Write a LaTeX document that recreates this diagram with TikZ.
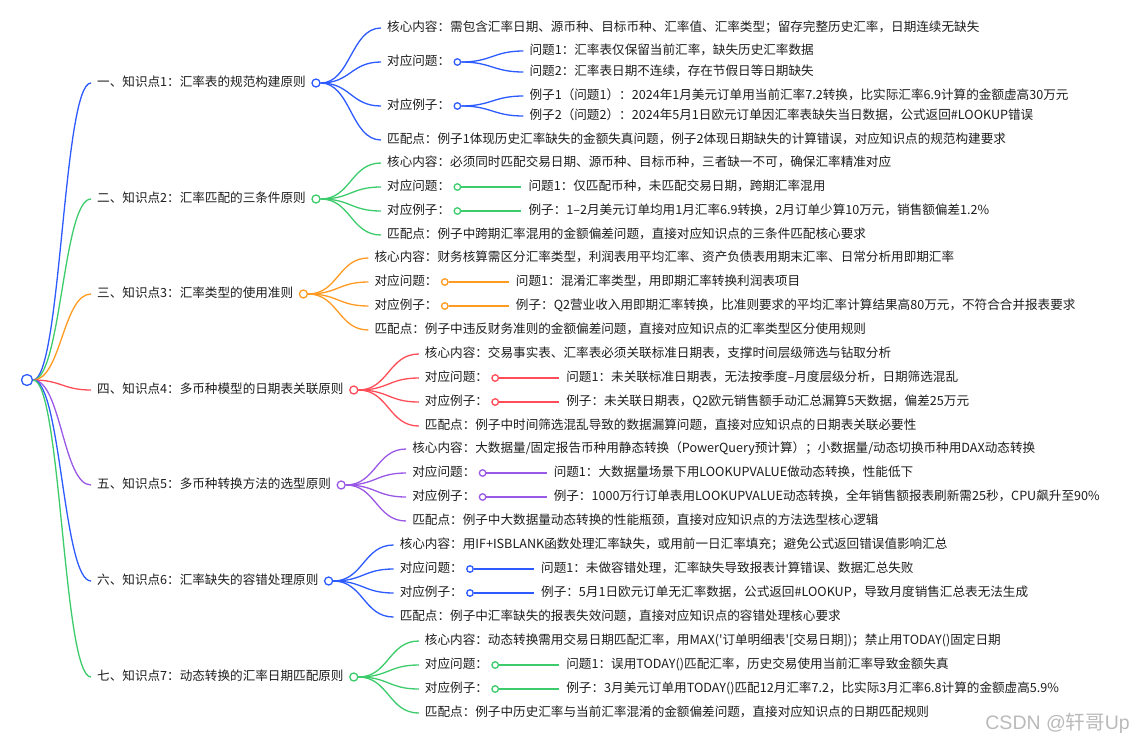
\documentclass[tikz,border=0pt]{standalone}
\usepackage{fontspec}
\newfontfamily\cjk{Noto Sans CJK SC}
\newfontfamily\wmlat{Liberation Sans}
\usetikzlibrary{calc}
\definecolor{cb}{HTML}{2D5BFF}
\definecolor{cg}{HTML}{3DCC6C}
\definecolor{co}{HTML}{FF9A22}
\definecolor{cr}{HTML}{FF4D58}
\definecolor{cp}{HTML}{9A58E6}
\definecolor{tc}{HTML}{1E1E1E}
\newcommand\kbranch[8]{%
  \node[txt] (#1t) at (97,#3) {#4};
  \node[dot=#2, minimum size=8pt] (#1c) at ([xshift=10pt]#1t.east) {};
  \draw[ln=#2] (root.east) .. controls +(28,0) and +(-28,0) .. ([xshift=-6pt]#1t.west);
  \node[txt] (#1a) at ($(#1c)+(71,-36)$) {核心内容：#5};
  \node[txt] (#1p) at ($(#1c)+(71,-12)$) {对应问题：};
  \node[txt] (#1e) at ($(#1c)+(71,12)$) {对应例子：};
  \node[txt] (#1m) at ($(#1c)+(71,36)$) {匹配点：#8};
  \node[dot=#2] (#1pc) at ([xshift=7pt]#1p.east) {};
  \node[dot=#2] (#1ec) at ([xshift=7pt]#1e.east) {};
  \node[txt] (#1pt) at ($(#1pc)+(71,0)$) {#6};
  \node[txt] (#1et) at ($(#1ec)+(71,0)$) {#7};
  \foreach \s in {a,p,e,m}{
    \draw[ln=#2] (#1c.east) .. controls +(30,0) and +(-30,0) .. ([xshift=-6pt]#1\s.west);}
  \draw[ln=#2] (#1pc.east) -- ([xshift=-7pt]#1pt.west);
  \draw[ln=#2] (#1ec.east) -- ([xshift=-7pt]#1et.west);
}
\begin{document}
\begin{tikzpicture}[x=1pt,y=-1pt,
  font=\cjk\fontsize{12.6}{15}\selectfont,
  txt/.style={anchor=west, inner sep=0pt, text=tc, text height=9.6pt, text depth=2.6pt},
  dot/.style={circle, draw=#1, fill=white, line width=1.3pt, minimum size=6.5pt, inner sep=0pt},
  ln/.style={draw=#1, line width=1.3pt}]
\fill[white] (0,0) rectangle (1133,742);
\useasboundingbox (0,0) rectangle (1133,742);
\node[dot=cb, minimum size=11pt] (root) at (27,380) {};

% ---------- branch 1 ----------
\node[txt] (k1t) at (97,83) {一、知识点1：汇率表的规范构建原则};
\node[dot=cb, minimum size=8pt] (k1c) at ([xshift=10pt]k1t.east) {};
\draw[ln=cb] (root.east) .. controls +(28,0) and +(-28,0) .. ([xshift=-6pt]k1t.west);
\node[txt] (k1a) at ($(k1c)+(71,-55)$) {核心内容：需包含汇率日期、源币种、目标币种、汇率值、汇率类型；留存完整历史汇率，日期连续无缺失};
\node[txt] (k1p) at ($(k1c)+(71,-21)$) {对应问题：};
\node[txt] (k1e) at ($(k1c)+(71,23)$) {对应例子：};
\node[txt] (k1m) at ($(k1c)+(71,57)$) {匹配点：例子1体现历史汇率缺失的金额失真问题，例子2体现日期缺失的计算错误，对应知识点的规范构建要求};
\node[dot=cb] (k1pc) at ([xshift=7pt]k1p.east) {};
\node[dot=cb] (k1ec) at ([xshift=7pt]k1e.east) {};
\node[txt] (k1p1) at ($(k1pc)+(72,-11)$) {问题1：汇率表仅保留当前汇率，缺失历史汇率数据};
\node[txt] (k1p2) at ($(k1pc)+(72,10)$) {问题2：汇率表日期不连续，存在节假日等日期缺失};
\node[txt] (k1e1) at ($(k1ec)+(72,-10)$) {例子1（问题1）：2024年1月美元订单用当前汇率7.2转换，比实际汇率6.9计算的金额虚高30万元};
\node[txt] (k1e2) at ($(k1ec)+(72,10)$) {例子2（问题2）：2024年5月1日欧元订单因汇率表缺失当日数据，公式返回\#LOOKUP错误};
\foreach \s in {a,p,e,m}{
  \draw[ln=cb] (k1c.east) .. controls +(30,0) and +(-30,0) .. ([xshift=-6pt]k1\s.west);}
\foreach \s in {p1,p2}{
  \draw[ln=cb] (k1pc.east) .. controls +(30,0) and +(-30,0) .. ([xshift=-6pt]k1\s.west);}
\foreach \s in {e1,e2}{
  \draw[ln=cb] (k1ec.east) .. controls +(30,0) and +(-30,0) .. ([xshift=-6pt]k1\s.west);}

% ---------- branches 2-7 ----------
\kbranch{k2}{cg}{199}{二、知识点2：汇率匹配的三条件原则}
  {必须同时匹配交易日期、源币种、目标币种，三者缺一不可，确保汇率精准对应}
  {问题1：仅匹配币种，未匹配交易日期，跨期汇率混用}
  {例子：1–2月美元订单均用1月汇率6.9转换，2月订单少算10万元，销售额偏差1.2\%}
  {例子中跨期汇率混用的金额偏差问题，直接对应知识点的三条件匹配核心要求}
\kbranch{k3}{co}{294}{三、知识点3：汇率类型的使用准则}
  {财务核算需区分汇率类型，利润表用平均汇率、资产负债表用期末汇率、日常分析用即期汇率}
  {问题1：混淆汇率类型，用即期汇率转换利润表项目}
  {例子：Q2营业收入用即期汇率转换，比准则要求的平均汇率计算结果高80万元，不符合合并报表要求}
  {例子中违反财务准则的金额偏差问题，直接对应知识点的汇率类型区分使用规则}
\kbranch{k4}{cr}{390}{四、知识点4：多币种模型的日期表关联原则}
  {交易事实表、汇率表必须关联标准日期表，支撑时间层级筛选与钻取分析}
  {问题1：未关联标准日期表，无法按季度–月度层级分析，日期筛选混乱}
  {例子：未关联日期表，Q2欧元销售额手动汇总漏算5天数据，偏差25万元}
  {例子中时间筛选混乱导致的数据漏算问题，直接对应知识点的日期表关联必要性}
\kbranch{k5}{cp}{485}{五、知识点5：多币种转换方法的选型原则}
  {大数据量/固定报告币种用静态转换（PowerQuery预计算）；小数据量/动态切换币种用DAX动态转换}
  {问题1：大数据量场景下用LOOKUPVALUE做动态转换，性能低下}
  {例子：1000万行订单表用LOOKUPVALUE动态转换，全年销售额报表刷新需25秒，CPU飙升至90\%}
  {例子中大数据量动态转换的性能瓶颈，直接对应知识点的方法选型核心逻辑}
\kbranch{k6}{cb}{581}{六、知识点6：汇率缺失的容错处理原则}
  {用IF+ISBLANK函数处理汇率缺失，或用前一日汇率填充；避免公式返回错误值影响汇总}
  {问题1：未做容错处理，汇率缺失导致报表计算错误、数据汇总失败}
  {例子：5月1日欧元订单无汇率数据，公式返回\#LOOKUP，导致月度销售汇总表无法生成}
  {例子中汇率缺失的报表失效问题，直接对应知识点的容错处理核心要求}
\kbranch{k7}{cg}{677}{七、知识点7：动态转换的汇率日期匹配原则}
  {动态转换需用交易日期匹配汇率，用MAX('订单明细表'[交易日期])；禁止用TODAY()固定日期}
  {问题1：误用TODAY()匹配汇率，历史交易使用当前汇率导致金额失真}
  {例子：3月美元订单用TODAY()匹配12月汇率7.2，比实际3月汇率6.8计算的金额虚高5.9\%}
  {例子中历史汇率与当前汇率混淆的金额偏差问题，直接对应知识点的日期匹配规则}

\node[anchor=east, inner sep=0pt, text=black!27, font=\fontsize{19.5}{22}\selectfont] (wm) at (1130,723) {\wmlat CSDN @\cjk 轩哥\wmlat Up};
\end{tikzpicture}
\end{document}
